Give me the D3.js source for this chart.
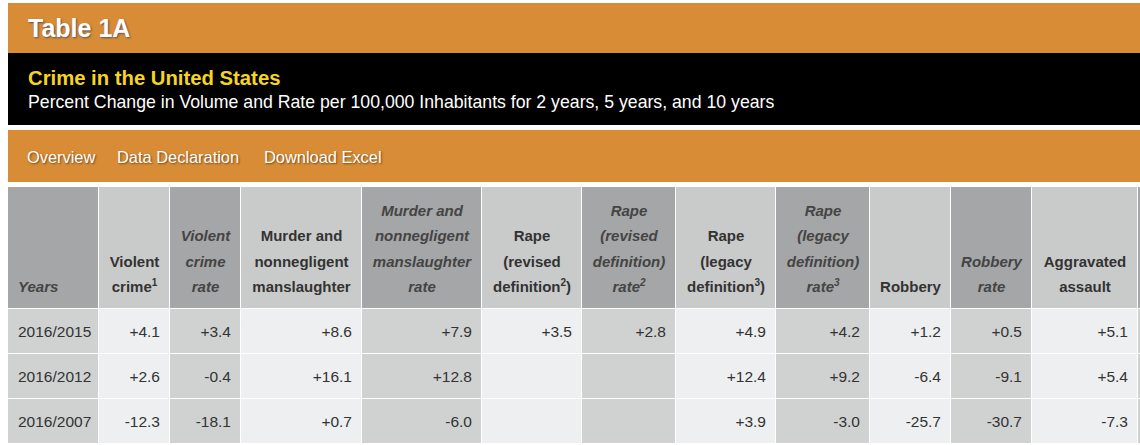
<!DOCTYPE html>
<html>
<head>
<meta charset="utf-8">
<script src="https://cdn.jsdelivr.net/npm/d3@7"></script>
<style>
  body { margin: 0; background: #fff; font-family: "Liberation Sans", Arial, sans-serif; }
</style>
</head>
<body>
<svg id="chart" width="1140" height="445"></svg>
<script>
// table data
const years = ["2016/2015", "2016/2012", "2016/2007"];
// header lines: [text, superscript, trailing] per line
const headers = [
  [["Years"]],
  [["Violent"], ["crime", "1"]],
  [["Violent"], ["crime"], ["rate"]],
  [["Murder and"], ["nonnegligent"], ["manslaughter"]],
  [["Murder and"], ["nonnegligent"], ["manslaughter"], ["rate"]],
  [["Rape"], ["(revised"], ["definition", "2", ")"]],
  [["Rape"], ["(revised"], ["definition)"], ["rate", "2"]],
  [["Rape"], ["(legacy"], ["definition", "3", ")"]],
  [["Rape"], ["(legacy"], ["definition)"], ["rate", "3"]],
  [["Robbery"]],
  [["Robbery"], ["rate"]],
  [["Aggravated"], ["assault"]],
  [[""]]
];
const rateCol = [true, false, true, false, true, false, true, false, true, false, true, false, true];
const values = [
  ["+4.1", "+3.4", "+8.6", "+7.9", "+3.5", "+2.8", "+4.9", "+4.2", "+1.2", "+0.5", "+5.1", ""],
  ["+2.6", "-0.4", "+16.1", "+12.8", "", "", "+12.4", "+9.2", "-6.4", "-9.1", "+5.4", ""],
  ["-12.3", "-18.1", "+0.7", "-6.0", "", "", "+3.9", "-3.0", "-25.7", "-30.7", "-7.3", ""]
];
const colEdges = [8, 99, 170, 241, 362, 482, 582, 676, 776, 870, 951, 1032, 1138, 1160];

const svg = d3.select("#chart");
const orange = "#d98c36";

// banners
svg.append("rect").attr("x", 8).attr("y", 3).attr("width", 1132).attr("height", 50).attr("fill", orange);
svg.append("text").attr("x", 28).attr("y", 37).attr("fill", "#fff").attr("font-size", 25)
  .attr("font-weight", "bold").style("text-shadow", "1px 1px 2px #555").text("Table 1A");
svg.append("rect").attr("x", 8).attr("y", 53).attr("width", 1132).attr("height", 72).attr("fill", "#000");
svg.append("text").attr("x", 28).attr("y", 85).attr("fill", "#f6d520").attr("font-size", 20.3)
  .attr("font-weight", "bold").text("Crime in the United States");
svg.append("text").attr("x", 28).attr("y", 108).attr("fill", "#fff").attr("font-size", 17.7)
  .text("Percent Change in Volume and Rate per 100,000 Inhabitants for 2 years, 5 years, and 10 years");
svg.append("rect").attr("x", 8).attr("y", 130).attr("width", 1132).attr("height", 52).attr("fill", orange);
const nav = [["Overview", 27], ["Data Declaration", 117], ["Download Excel", 264]];
svg.selectAll(".nav").data(nav).join("text")
  .attr("x", d => d[1]).attr("y", 163).attr("fill", "#fff").attr("font-size", 16.4)
  .style("text-shadow", "1px 1px 2px #6a4a20").text(d => d[0]);

// table
const rowTops = [187, 309, 354, 399, 444];
const cols = d3.range(headers.length);

// header cells
const head = svg.append("g");
cols.forEach(i => {
  const x0 = colEdges[i], x1 = colEdges[i + 1];
  head.append("rect").attr("x", x0).attr("y", rowTops[0]).attr("width", x1 - x0 - 1)
    .attr("height", rowTops[1] - rowTops[0] - 1).attr("fill", rateCol[i] ? "#a4a6a7" : "#c9caca");
  const lines = headers[i];
  const n = lines.length;
  lines.forEach((ln, j) => {
    const t = head.append("text")
      .attr("x", i === 0 ? x0 + 10 : (x0 + x1) / 2)
      .attr("y", 292 - (n - 1 - j) * 25.5)
      .attr("text-anchor", i === 0 ? "start" : "middle")
      .attr("font-size", 15).attr("font-weight", "bold")
      .attr("font-style", rateCol[i] ? "italic" : "normal")
      .attr("fill", rateCol[i] ? "#444" : "#333");
    t.append("tspan").text(ln[0]);
    if (ln[1]) t.append("tspan").attr("dy", -6).attr("font-size", 10).text(ln[1]);
    if (ln[2]) t.append("tspan").attr("dy", 6).text(ln[2]);
  });
});

// body cells
years.forEach((yr, r) => {
  const y0 = rowTops[r + 1], y1 = rowTops[r + 2];
  const cells = [yr].concat(values[r]);
  const g = svg.append("g");
  cells.forEach((v, i) => {
    const x0 = colEdges[i], x1 = colEdges[i + 1];
    g.append("rect").attr("x", x0).attr("y", y0).attr("width", x1 - x0 - 1).attr("height", y1 - y0 - 1)
      .attr("fill", rateCol[i] ? "#d0d1d1" : "#eeeff0");
    g.append("text")
      .attr("x", i === 0 ? x0 + 10 : x1 - 10)
      .attr("y", (y0 + y1) / 2 + 5)
      .attr("text-anchor", i === 0 ? "start" : "end")
      .attr("font-size", 15.5).attr("fill", "#333").text(v);
  });
});
</script>
</body>
</html>
